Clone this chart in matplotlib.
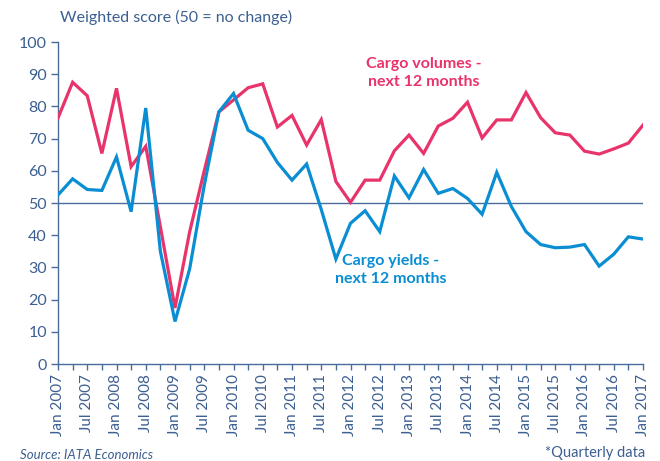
import matplotlib
matplotlib.use("Agg")
import matplotlib.pyplot as plt
import numpy as np

plt.rcParams['font.family'] = ['Lato', 'DejaVu Sans']

quarters = ["Jan 2007", "Apr 2007", "Jul 2007", "Oct 2007", "Jan 2008", "Apr 2008", "Jul 2008", "Oct 2008",
            "Jan 2009", "Apr 2009", "Jul 2009", "Oct 2009", "Jan 2010", "Apr 2010", "Jul 2010", "Oct 2010",
            "Jan 2011", "Apr 2011", "Jul 2011", "Oct 2011", "Jan 2012", "Apr 2012", "Jul 2012", "Oct 2012",
            "Jan 2013", "Apr 2013", "Jul 2013", "Oct 2013", "Jan 2014", "Apr 2014", "Jul 2014", "Oct 2014",
            "Jan 2015", "Apr 2015", "Jul 2015", "Oct 2015", "Jan 2016", "Apr 2016", "Jul 2016", "Oct 2016",
            "Jan 2017"]

cargo_volumes = [76.4, 87.5, 83.3, 65.4, 85.6, 61.3, 67.6, 42.6,
                 17.4, 41.0, 60.0, 78.3, 82.0, 85.8, 87.0, 73.6,
                 77.2, 68.0, 75.9, 56.7, 50.2, 57.1, 57.1, 66.2,
                 71.1, 65.4, 73.9, 76.3, 81.3, 70.2, 75.8, 75.8,
                 84.3, 76.5, 71.8, 71.1, 66.1, 65.2, 66.8, 68.6,
                 74.2]

cargo_yields = [52.5, 57.5, 54.2, 53.9, 64.3, 47.3, 79.5, 35.0,
                13.2, 29.5, 55.5, 78.3, 84.0, 72.6, 70.0, 62.6,
                57.1, 62.1, 48.0, 32.6, 43.7, 47.6, 41.1, 58.4,
                51.6, 60.4, 53.0, 54.5, 51.4, 46.5, 59.5, 48.9,
                41.1, 37.1, 36.1, 36.3, 37.1, 30.4, 34.1, 39.5,
                38.8]

y_ticks = [0, 10, 20, 30, 40, 50, 60, 70, 80, 90, 100]

pink = "#e8336b"
blue = "#0a8ed3"
axcol = "#4a6c9b"
txtcol = "#3c5f91"

fig = plt.figure(figsize=(6.6, 4.61), dpi=100)
ax = fig.add_axes([58/660, 1 - 364/461, (643 - 58)/660, (364 - 42)/461])

x = np.arange(len(quarters))
ax.plot(x, cargo_volumes, color=pink, lw=2.3, solid_joinstyle='miter', zorder=3)
ax.plot(x, cargo_yields, color=blue, lw=2.3, solid_joinstyle='miter', zorder=4)
ax.axhline(50, color=axcol, lw=1.0, zorder=2)

ax.set_xlim(0, len(quarters) - 1)
ax.set_ylim(0, 100)
ax.set_yticks(y_ticks)
ax.set_yticklabels([str(v) for v in y_ticks], fontsize=11.5, color=txtcol)
ax.set_xticks(x)
ax.set_xticklabels([q if (i % 2 == 0) else "" for i, q in enumerate(quarters)],
                   rotation=90, fontsize=11, color=txtcol)
for lab, q in zip(ax.get_xticklabels(), quarters):
    pass
ax.tick_params(axis='x', direction='out', length=4, width=1, color=axcol, pad=3)
ax.tick_params(axis='y', direction='out', length=5, width=1, color=axcol, pad=3)

for s in ['top', 'right']:
    ax.spines[s].set_visible(False)
for s in ['left', 'bottom']:
    ax.spines[s].set_color(axcol)
    ax.spines[s].set_linewidth(1.0)

fig.text(60/660, 1 - 17/461, "Weighted score (50 = no change)", fontsize=11.5,
         color=txtcol, ha='left', va='center')

fig.text(424/660, 1 - 73/461, "Cargo volumes -\nnext 12 months", fontsize=11.5,
         color=pink, ha='center', va='center', fontweight='bold', linespacing=1.45)
fig.text(391/660, 1 - 270/461, "Cargo yields -\nnext 12 months", fontsize=11.5,
         color=blue, ha='center', va='center', fontweight='bold', linespacing=1.45)

fig.text(20/660, 1 - 455/461, "Source: IATA Economics", fontsize=9.5, style='italic',
         color=txtcol, ha='left', va='center')
fig.text(645/660, 1 - 453/461, "*Quarterly data", fontsize=10.5,
         color=txtcol, ha='right', va='center')

fig.savefig("out.png", dpi=100)
